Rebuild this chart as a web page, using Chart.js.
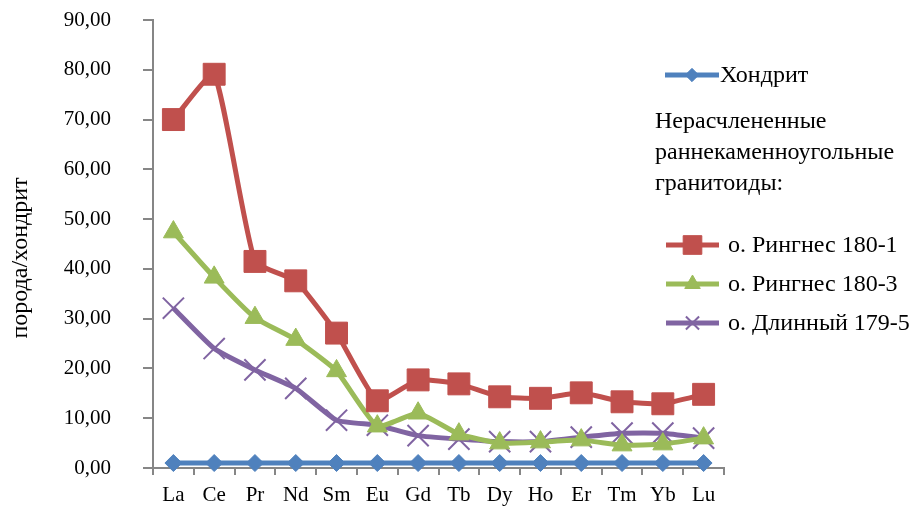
<!DOCTYPE html>
<html>
<head>
<meta charset="utf-8">
<script src="https://cdn.jsdelivr.net/npm/chart.js@4"></script>
<style>
  html, body { margin: 0; padding: 0; background: #fff; }
  #wrap { width: 916px; height: 512px; position: relative; }
</style>
</head>
<body>
<div id="wrap"><canvas id="reeChart" width="916" height="512"></canvas></div>
<script>
const elements = ['La', 'Ce', 'Pr', 'Nd', 'Sm', 'Eu', 'Gd', 'Tb', 'Dy', 'Ho', 'Er', 'Tm', 'Yb', 'Lu'];
const chondrite = [1, 1, 1, 1, 1, 1, 1, 1, 1, 1, 1, 1, 1, 1];
const ringnes1801 = [70, 79.1, 41.5, 37.6, 27.1, 13.5, 17.7, 16.9, 14.3, 14.0, 15.1, 13.3, 12.9, 14.8];
const ringnes1803 = [47.4, 38.3, 30.2, 25.8, 19.5, 8.4, 11.0, 6.8, 5.0, 5.2, 5.6, 4.6, 4.8, 6.0];
const dlinny1795 = [32.1, 24.0, 19.7, 16.0, 9.6, 8.6, 6.5, 5.8, 5.3, 5.3, 6.2, 7.0, 7.0, 6.0];
const yTicks = [0, 10, 20, 30, 40, 50, 60, 70, 80, 90];

const serif = '"Liberation Serif", "DejaVu Serif", serif';
const axisGray = '#868686';

const series = [
  { label: 'Хондрит', data: chondrite, color: '#4F81BD', style: 'rectRot', radius: 8.5, legendScale: 0.78 },
  { label: 'о. Рингнес 180-1', data: ringnes1801, color: '#C0504D', style: 'rect', radius: 15.5, legendScale: 0.85 },
  { label: 'о. Рингнес 180-3', data: ringnes1803, color: '#9BBB59', style: 'triangle', radius: 11.5, legendScale: 0.78 },
  { label: 'о. Длинный 179-5', data: dlinny1795, color: '#8064A2', style: 'crossRot', radius: 15, legendScale: 0.62 }
];

// legend + axis title drawn by hand, Excel style with a text block in the middle
const sideLegend = {
  id: 'sideLegend',
  afterDraw(chart) {
    const ctx = chart.ctx;
    const rows = [
      { s: 0, y: 75, x1: 665, x2: 719, tx: 720 },
      { s: 1, y: 245, x1: 666, x2: 719, tx: 728 },
      { s: 2, y: 284, x1: 666, x2: 719, tx: 728 },
      { s: 3, y: 323, x1: 666, x2: 719, tx: 728 }
    ];
    ctx.save();
    ctx.font = '24px ' + serif;
    ctx.textBaseline = 'middle';
    ctx.fillStyle = '#000';
    rows.forEach(r => {
      const s = series[r.s];
      ctx.strokeStyle = s.color;
      ctx.lineWidth = 5;
      ctx.lineCap = 'butt';
      ctx.beginPath();
      ctx.moveTo(r.x1, r.y);
      ctx.lineTo(r.x2, r.y);
      ctx.stroke();
      ctx.fillStyle = s.color;
      ctx.lineWidth = s.style === 'crossRot' ? 2 : 1;
      Chart.helpers.drawPoint(ctx, { pointStyle: s.style, radius: s.radius * s.legendScale, borderWidth: ctx.lineWidth }, (r.x1 + r.x2) / 2, r.y);
      ctx.fillStyle = '#000';
      ctx.fillText(s.label, r.tx, r.y + 1);
    });
    ['Нерасчлененные', 'раннекаменноугольные', 'гранитоиды:'].forEach((t, i) => {
      ctx.fillText(t, 655, 122 + i * 31);
    });
    // y axis title
    ctx.translate(21, 258);
    ctx.rotate(-Math.PI / 2);
    ctx.textAlign = 'center';
    ctx.fillText('порода/хондрит', 0, 0);
    ctx.restore();
  }
};

new Chart(document.getElementById('reeChart').getContext('2d'), {
  type: 'line',
  data: {
    labels: elements,
    datasets: series.map(s => ({
      label: s.label,
      data: s.data,
      borderColor: s.color,
      backgroundColor: s.color,
      borderWidth: 5,
      pointStyle: s.style,
      pointRadius: s.radius,
      pointHoverRadius: s.radius,
      pointBorderWidth: s.style === 'crossRot' ? 2 : 1,
      pointBorderColor: s.color,
      pointBackgroundColor: s.color,
      tension: 0.15,
      clip: false
    }))
  },
  options: {
    responsive: false,
    animation: false,
    layout: { autoPadding: false, padding: { top: 20, right: 192, left: 0, bottom: 0 } },
    plugins: {
      legend: { display: false },
      tooltip: { enabled: false }
    },
    scales: {
      x: {
        offset: true,
        grid: { offset: true, drawOnChartArea: false, drawTicks: true, tickLength: 7, color: axisGray, lineWidth: 2 },
        border: { display: true, color: axisGray, width: 2 },
        ticks: { color: '#000', font: { family: serif, size: 21 }, padding: 8, maxRotation: 0 },
        afterFit: s => { s.height = 44; }
      },
      y: {
        min: 0,
        max: 90,
        afterBuildTicks: s => { s.ticks = yTicks.map(v => ({ value: v })); },
        grid: { drawOnChartArea: false, drawTicks: true, tickLength: 10, color: axisGray, lineWidth: 2 },
        border: { display: true, color: axisGray, width: 2 },
        ticks: {
          color: '#000',
          font: { family: serif, size: 21 },
          padding: 32,
          callback: v => v.toFixed(2).replace('.', ',')
        },
        afterFit: s => {
          s.width = 153;
          s.paddingTop = 0;
          s.paddingBottom = 0;
        }
      }
    }
  },
  plugins: [sideLegend]
});
</script>
</body>
</html>
